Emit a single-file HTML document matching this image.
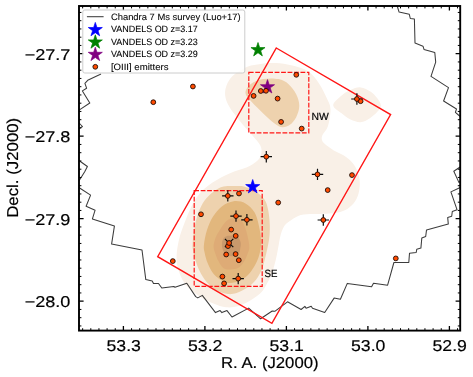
<!DOCTYPE html>
<html><head><meta charset="utf-8"><title>chart</title>
<style>html,body{margin:0;padding:0;background:#fff;}body{width:473px;height:377px;overflow:hidden;font-family:"Liberation Sans",sans-serif;}</style></head>
<body>
<svg width="473" height="377" viewBox="0 0 473 377" style="display:block" font-family="Liberation Sans, sans-serif">
<style>text{stroke:#000;stroke-width:0.18px;paint-order:stroke fill;text-rendering:geometricPrecision}svg{will-change:transform;transform:translateZ(0)}</style>
<rect width="473" height="377" fill="#fff"/>
<defs><clipPath id="ax"><rect x="79.0" y="6.0" width="381.2" height="324.6"/></clipPath></defs>
<g clip-path="url(#ax)">
<path d="M225.2,90.5 C225.6,87.1 227.1,83.4 229.0,80.4 C230.9,77.5 233.4,75.1 236.6,72.8 C239.8,70.5 244.0,67.9 248.0,66.4 C252.0,64.9 256.1,64.5 260.7,63.9 C265.3,63.3 270.8,62.9 275.9,63.1 C281.0,63.3 286.5,64.2 291.1,65.2 C295.8,66.2 300.2,67.3 303.8,69.0 C307.4,70.7 309.9,72.5 312.7,75.3 C315.4,78.0 318.0,81.7 320.3,85.5 C322.6,89.3 325.0,94.2 326.7,98.1 C328.4,102.0 330.3,104.3 330.5,109.0 C330.7,113.7 329.3,121.7 328.0,126.0 C326.7,130.3 323.5,132.7 322.5,135.0 C321.5,137.3 321.6,138.5 322.0,140.0 C322.4,141.5 322.9,142.3 324.9,144.0 C326.9,145.7 330.6,148.5 333.8,150.4 C337.0,152.3 340.9,153.6 343.9,155.5 C346.8,157.4 349.4,159.5 351.5,161.8 C353.6,164.1 355.2,166.4 356.6,169.4 C358.0,172.4 359.2,176.0 359.6,179.6 C360.0,183.2 359.8,187.4 359.1,191.0 C358.4,194.6 357.2,198.1 355.3,201.1 C353.4,204.1 350.6,206.9 347.7,208.8 C344.8,210.7 341.2,211.8 337.6,212.6 C334.0,213.4 330.1,213.6 326.1,213.8 C322.1,214.0 317.7,213.8 313.5,214.0 C309.3,214.2 304.5,214.0 300.8,215.0 C297.1,216.0 294.1,218.2 291.4,219.9 C288.7,221.6 286.6,222.8 284.8,225.2 C283.0,227.6 281.9,230.8 280.8,234.5 C279.7,238.2 279.1,243.3 278.2,247.7 C277.3,252.1 276.6,256.6 275.5,261.0 C274.4,265.4 273.1,270.3 271.5,274.3 C269.9,278.3 268.0,281.8 266.2,284.9 C264.4,288.0 263.3,290.3 260.9,292.8 C258.4,295.3 255.2,297.5 251.5,299.7 C247.8,301.9 243.0,304.7 238.8,306.0 C234.6,307.3 230.3,307.7 226.1,307.3 C221.9,306.9 217.7,305.2 213.5,303.5 C209.3,301.8 204.6,299.5 200.8,297.2 C197.0,294.9 193.6,292.4 190.6,289.6 C187.6,286.9 185.1,284.3 183.0,280.7 C180.9,277.1 179.0,272.2 177.9,268.0 C176.8,263.8 176.4,260.2 176.6,255.3 C176.8,250.4 177.9,244.0 179.2,238.7 C180.5,233.4 182.4,228.6 184.3,223.5 C186.2,218.4 188.3,212.9 190.6,208.2 C192.9,203.5 195.4,199.1 198.2,195.5 C200.9,191.9 203.7,189.3 207.1,186.6 C210.5,183.8 214.5,181.3 218.5,179.0 C222.5,176.7 226.5,174.6 231.2,172.7 C235.8,170.8 242.0,169.6 246.4,167.6 C250.8,165.6 255.1,162.9 257.6,160.5 C260.1,158.1 261.0,155.4 261.4,152.9 C261.8,150.4 261.6,148.1 260.2,145.3 C258.8,142.5 256.0,139.6 253.1,136.2 C250.2,132.8 246.3,128.8 242.9,124.8 C239.5,120.8 235.6,116.1 232.8,112.1 C230.1,108.1 227.7,104.3 226.4,100.7 C225.1,97.1 224.8,93.9 225.2,90.5 Z" fill="#f9f0e7"/>
<path d="M333.2,105.2 C333.2,102.2 338.7,98.0 341.6,95.5 C344.5,93.0 347.3,91.2 350.5,89.9 C353.7,88.6 357.2,87.1 360.6,87.4 C364.0,87.7 368.1,89.9 370.8,91.7 C373.6,93.5 375.4,95.8 377.1,98.1 C378.8,100.4 380.9,103.4 380.9,105.7 C380.9,108.0 379.0,109.9 377.1,112.0 C375.2,114.1 372.2,116.7 369.5,118.4 C366.8,120.1 363.8,122.0 360.6,122.2 C357.4,122.4 353.7,121.1 350.5,119.6 C347.3,118.1 344.5,115.7 341.6,113.3 C338.7,110.9 333.2,108.2 333.2,105.2 Z" fill="#f9f0e7"/>
<path d="M245.5,93.1 C245.3,90.1 247.6,86.5 250.5,84.2 C253.4,81.9 258.5,79.9 263.2,79.1 C267.9,78.2 274.3,78.2 278.5,79.1 C282.7,79.9 285.7,81.7 288.6,84.2 C291.6,86.7 294.4,90.7 296.2,94.3 C298.0,97.9 299.3,102.0 299.3,105.8 C299.3,109.6 297.8,114.0 296.2,117.2 C294.6,120.4 292.2,123.1 289.9,124.8 C287.6,126.5 284.9,127.5 282.3,127.3 C279.8,127.1 277.8,125.8 274.6,123.5 C271.4,121.2 267.0,117.0 263.2,113.4 C259.4,109.8 254.8,105.4 251.8,102.0 C248.9,98.6 245.7,96.1 245.5,93.1 Z" fill="#eed2ae"/>
<path d="M237.1,186.0 C240.5,186.0 241.4,185.9 244.0,186.6 C246.6,187.3 250.0,188.7 252.6,190.0 C255.2,191.3 257.4,192.4 259.5,194.3 C261.6,196.2 264.1,198.6 265.5,201.2 C266.9,203.8 267.4,206.6 268.1,209.8 C268.8,213.0 269.2,216.8 269.5,220.2 C269.8,223.6 269.9,226.7 269.8,230.0 C269.7,233.3 269.5,236.7 269.0,240.0 C268.5,243.3 267.7,246.8 267.0,250.0 C266.3,253.2 265.8,255.7 264.9,258.9 C264.0,262.1 263.4,265.8 261.9,269.3 C260.4,272.8 258.5,276.6 256.0,279.7 C253.5,282.8 250.2,285.6 247.0,287.8 C243.8,290.0 239.8,292.0 236.6,293.0 C233.4,294.0 230.9,294.4 227.7,294.0 C224.5,293.6 220.5,292.4 217.3,290.8 C214.1,289.2 211.1,287.0 208.4,284.1 C205.7,281.2 203.1,277.4 201.0,273.7 C198.9,270.0 197.3,265.9 196.0,262.0 C194.7,258.1 193.6,253.0 193.0,250.0 C192.4,247.0 192.4,247.4 192.6,243.8 C192.8,240.2 193.5,233.6 194.4,228.5 C195.3,223.4 196.5,218.0 198.2,213.3 C199.9,208.7 202.0,204.2 204.6,200.6 C207.2,197.0 210.3,194.0 213.5,191.7 C216.7,189.4 219.7,187.5 223.6,186.6 C227.5,185.7 233.7,186.0 237.1,186.0 Z" fill="#eed2ae"/>
<path d="M233.7,201.2 C237.6,200.7 242.0,201.6 245.5,203.4 C249.0,205.2 252.3,208.6 254.5,212.3 C256.7,216.0 257.8,221.0 258.9,225.7 C260.0,230.4 260.9,236.6 261.1,240.6 C261.4,244.6 261.0,246.6 260.4,249.9 C259.8,253.2 258.9,256.8 257.4,260.3 C255.9,263.8 253.7,267.7 251.5,270.7 C249.3,273.7 246.8,276.3 244.1,278.2 C241.4,280.1 237.8,281.5 235.1,282.3 C232.4,283.1 230.2,283.3 227.7,282.9 C225.2,282.5 222.8,281.3 220.3,279.7 C217.8,278.1 215.0,275.7 212.9,273.0 C210.8,270.3 209.1,266.7 207.7,263.3 C206.3,259.9 205.3,256.0 204.7,252.9 C204.1,249.8 203.5,248.8 203.9,245.0 C204.3,241.2 205.4,234.9 206.9,230.2 C208.4,225.5 210.4,220.8 212.9,216.8 C215.4,212.8 218.3,209.0 221.8,206.4 C225.3,203.8 229.8,201.7 233.7,201.2 Z" fill="#e2b77d"/>
<path d="M233.7,218.3 C236.2,218.2 239.1,218.8 241.1,220.5 C243.1,222.2 244.3,225.3 245.5,228.7 C246.7,232.0 247.9,237.4 248.5,240.6 C249.1,243.8 249.4,245.9 249.3,248.0 C249.2,250.1 248.6,250.9 247.8,253.0 C247.1,255.1 246.2,258.0 244.8,260.3 C243.4,262.6 241.7,265.5 239.6,267.0 C237.5,268.5 234.8,269.1 232.2,269.3 C229.6,269.6 226.2,269.8 224.0,268.5 C221.8,267.2 220.3,264.4 218.8,261.8 C217.3,259.2 216.0,255.5 215.1,252.9 C214.2,250.3 213.5,248.5 213.6,246.0 C213.7,243.5 214.6,240.4 215.5,238.0 C216.4,235.6 217.0,234.5 218.8,231.7 C220.6,228.9 223.7,223.5 226.2,221.3 C228.7,219.1 231.2,218.4 233.7,218.3 Z" fill="#deab76"/>
<path d="M225.3,236.7 C226.6,236.1 229.0,235.7 231.0,235.6 C233.0,235.5 235.6,235.1 237.2,236.2 C238.8,237.3 240.1,240.2 240.6,242.2 C241.1,244.2 240.6,246.2 240.3,248.0 C240.0,249.8 240.1,251.8 238.9,253.2 C237.7,254.6 234.8,255.8 233.0,256.2 C231.2,256.6 229.4,255.8 228.0,255.3 C226.6,254.8 225.4,254.4 224.5,253.2 C223.6,252.0 222.7,249.7 222.3,248.0 C221.9,246.3 221.9,244.4 222.0,243.0 C222.1,241.6 222.4,240.4 223.0,239.3 C223.6,238.2 224.0,237.3 225.3,236.7 Z" fill="#c8996c"/>
<polyline points="101.0,74.0 99.4,74.8 87.7,80.3 84.9,83.3 86.6,88.2 82.4,90.9 89.8,103.0 80.2,109.4 76.0,112.0" fill="none" stroke="#3c3c3c" stroke-width="1.05" stroke-linejoin="round"/>
<polyline points="76.0,121.0 80.0,124.0 82.5,126.5 80.0,128.0 76.0,130.0" fill="none" stroke="#3c3c3c" stroke-width="1.05" stroke-linejoin="round"/>
<polyline points="76.0,158.0 80.0,161.2 87.4,166.5 84.7,171.8 80.0,179.2 76.0,184.0" fill="none" stroke="#3c3c3c" stroke-width="1.05" stroke-linejoin="round"/>
<polyline points="76.0,185.5 80.0,188.2 90.6,195.1 86.1,206.2 95.1,210.2 92.4,218.9 114.4,226.1 111.6,244.1 142.0,250.0 145.8,279.6 152.2,280.9 153.5,283.5 158.5,283.5 161.8,288.0 173.8,286.5 175.0,287.3 186.8,283.3 195.7,296.6 197.8,297.9 202.3,295.4 215.5,312.6 220.1,310.6 221.9,312.6 227.0,310.6 232.0,317.0 248.7,308.1 260.6,318.8 272.2,311.0 274.8,311.3 287.5,301.8 301.1,309.5 304.9,306.4 306.1,308.2 311.2,306.2 312.5,308.2 324.7,312.5 334.1,298.1 340.4,299.3 347.3,283.4 371.6,286.7 373.5,283.3 387.6,285.2 393.9,262.5 408.8,262.5 409.5,253.2 416.2,252.5 416.8,249.2 420.9,248.1 421.8,238.1 425.7,236.5 426.5,230.1 448.3,224.1 447.7,217.6 451.7,216.3 452.3,211.5 457.0,209.7 450.9,191.9 459.7,187.7 464.0,186.0" fill="none" stroke="#3c3c3c" stroke-width="1.05" stroke-linejoin="round"/>
<polyline points="464.0,179.0 458.9,182.4 453.8,171.2 459.7,167.2 464.0,165.0" fill="none" stroke="#3c3c3c" stroke-width="1.05" stroke-linejoin="round"/>
<polyline points="464.0,119.0 459.0,115.5 455.4,112.3 456.5,109.0 443.6,101.0 448.5,87.6 431.0,76.4 435.7,62.1 434.8,52.5 424.0,49.4 423.0,46.2 415.0,43.0 414.4,19.1 410.3,18.5 409.3,14.3 399.1,12.1 397.5,7.0 397.0,3.0" fill="none" stroke="#3c3c3c" stroke-width="1.05" stroke-linejoin="round"/>
<polygon points="276.3,48 390.6,114.6 271.9,323.4 157.7,256.7" fill="none" stroke="#ff1616" stroke-width="1.4"/>
<rect x="248.8" y="72.3" width="60" height="60.6" fill="none" stroke="#ff1616" stroke-width="1.2" stroke-dasharray="4.8,1.66"/>
<rect x="194.2" y="190.6" width="68" height="95.7" fill="none" stroke="#ff1616" stroke-width="1.2" stroke-dasharray="4.8,1.66"/>
<polygon points="252.70,179.50 254.36,184.61 259.74,184.61 255.39,187.77 257.05,192.89 252.70,189.73 248.35,192.89 250.01,187.77 245.66,184.61 251.04,184.61" fill="#0000ff" stroke="#0000ff" stroke-width="0.7" stroke-linejoin="miter" stroke-miterlimit="10"/>
<polygon points="258.00,42.50 259.66,47.61 265.04,47.61 260.69,50.77 262.35,55.89 258.00,52.73 253.65,55.89 255.31,50.77 250.96,47.61 256.34,47.61" fill="#008000" stroke="#008000" stroke-width="0.7" stroke-linejoin="miter" stroke-miterlimit="10"/>
<polygon points="267.50,79.60 269.16,84.71 274.54,84.71 270.19,87.87 271.85,92.99 267.50,89.83 263.15,92.99 264.81,87.87 260.46,84.71 265.84,84.71" fill="#800080" stroke="#800080" stroke-width="0.7" stroke-linejoin="miter" stroke-miterlimit="10"/>
<path d="M351.2,99.0 h11.4 M356.9,93.3 v11.4" stroke="#0a0a0a" stroke-width="1.2" fill="none"/>
<path d="M260.6,156.7 h11.4 M266.3,151.0 v11.4" stroke="#0a0a0a" stroke-width="1.2" fill="none"/>
<path d="M311.8,174.4 h11.4 M317.5,168.7 v11.4" stroke="#0a0a0a" stroke-width="1.2" fill="none"/>
<path d="M317.6,220.0 h11.4 M323.3,214.3 v11.4" stroke="#0a0a0a" stroke-width="1.2" fill="none"/>
<path d="M222.1,195.9 h11.4 M227.8,190.2 v11.4" stroke="#0a0a0a" stroke-width="1.2" fill="none"/>
<path d="M230.3,216.1 h11.4 M236.0,210.4 v11.4" stroke="#0a0a0a" stroke-width="1.2" fill="none"/>
<path d="M241.2,219.8 h11.4 M246.9,214.1 v11.4" stroke="#0a0a0a" stroke-width="1.2" fill="none"/>
<path d="M232.5,278.6 h11.4 M238.2,272.9 v11.4" stroke="#0a0a0a" stroke-width="1.2" fill="none"/>
<path d="M224.9,238.8 l8.4,8.4 M233.3,238.8 l-8.4,8.4" stroke="#0a0a0a" stroke-width="1.2" fill="none"/>
<circle cx="153.3" cy="102.2" r="2.4" fill="#ff4a00" stroke="#1e0a03" stroke-width="0.9"/>
<circle cx="192.9" cy="86.5" r="2.4" fill="#ff4a00" stroke="#1e0a03" stroke-width="0.9"/>
<circle cx="296.3" cy="74.8" r="2.4" fill="#ff4a00" stroke="#1e0a03" stroke-width="0.9"/>
<circle cx="260.8" cy="91.0" r="2.4" fill="#ff4a00" stroke="#1e0a03" stroke-width="0.9"/>
<circle cx="266.0" cy="90.8" r="2.4" fill="#ff4a00" stroke="#1e0a03" stroke-width="0.9"/>
<circle cx="253.6" cy="95.9" r="2.4" fill="#ff4a00" stroke="#1e0a03" stroke-width="0.9"/>
<circle cx="277.6" cy="98.6" r="2.4" fill="#ff4a00" stroke="#1e0a03" stroke-width="0.9"/>
<circle cx="281.1" cy="121.9" r="2.4" fill="#ff4a00" stroke="#1e0a03" stroke-width="0.9"/>
<circle cx="301.7" cy="128.6" r="2.4" fill="#ff4a00" stroke="#1e0a03" stroke-width="0.9"/>
<circle cx="360.6" cy="101.2" r="2.4" fill="#ff4a00" stroke="#1e0a03" stroke-width="0.9"/>
<circle cx="352.0" cy="175.1" r="2.4" fill="#ff4a00" stroke="#1e0a03" stroke-width="0.9"/>
<circle cx="327.7" cy="190.1" r="2.4" fill="#ff4a00" stroke="#1e0a03" stroke-width="0.9"/>
<circle cx="278.2" cy="202.6" r="2.4" fill="#ff4a00" stroke="#1e0a03" stroke-width="0.9"/>
<circle cx="239.0" cy="193.5" r="2.4" fill="#ff4a00" stroke="#1e0a03" stroke-width="0.9"/>
<circle cx="201.0" cy="214.3" r="2.4" fill="#ff4a00" stroke="#1e0a03" stroke-width="0.9"/>
<circle cx="231.2" cy="229.6" r="2.4" fill="#ff4a00" stroke="#1e0a03" stroke-width="0.9"/>
<circle cx="235.7" cy="235.9" r="2.4" fill="#ff4a00" stroke="#1e0a03" stroke-width="0.9"/>
<circle cx="228.0" cy="246.1" r="2.4" fill="#ff4a00" stroke="#1e0a03" stroke-width="0.9"/>
<circle cx="226.2" cy="254.5" r="2.4" fill="#ff4a00" stroke="#1e0a03" stroke-width="0.9"/>
<circle cx="235.6" cy="254.1" r="2.4" fill="#ff4a00" stroke="#1e0a03" stroke-width="0.9"/>
<circle cx="238.8" cy="260.2" r="2.4" fill="#ff4a00" stroke="#1e0a03" stroke-width="0.9"/>
<circle cx="222.4" cy="276.6" r="2.4" fill="#ff4a00" stroke="#1e0a03" stroke-width="0.9"/>
<circle cx="224.1" cy="283.4" r="2.4" fill="#ff4a00" stroke="#1e0a03" stroke-width="0.9"/>
<circle cx="172.8" cy="261.1" r="2.4" fill="#ff4a00" stroke="#1e0a03" stroke-width="0.9"/>
<circle cx="395.8" cy="258.4" r="2.4" fill="#ff4a00" stroke="#1e0a03" stroke-width="0.9"/>
<circle cx="356.9" cy="99.0" r="2.4" fill="#ff4a00" stroke="#1e0a03" stroke-width="0.9"/>
<circle cx="266.3" cy="156.7" r="2.4" fill="#ff4a00" stroke="#1e0a03" stroke-width="0.9"/>
<circle cx="317.5" cy="174.4" r="2.4" fill="#ff4a00" stroke="#1e0a03" stroke-width="0.9"/>
<circle cx="323.3" cy="220.0" r="2.4" fill="#ff4a00" stroke="#1e0a03" stroke-width="0.9"/>
<circle cx="227.8" cy="195.9" r="2.4" fill="#ff4a00" stroke="#1e0a03" stroke-width="0.9"/>
<circle cx="236.0" cy="216.1" r="2.4" fill="#ff4a00" stroke="#1e0a03" stroke-width="0.9"/>
<circle cx="246.9" cy="219.8" r="2.4" fill="#ff4a00" stroke="#1e0a03" stroke-width="0.9"/>
<circle cx="238.2" cy="278.6" r="2.4" fill="#ff4a00" stroke="#1e0a03" stroke-width="0.9"/>
<circle cx="229.1" cy="243.0" r="2.4" fill="#ff4a00" stroke="#1e0a03" stroke-width="0.9"/>
</g>
<text x="311.5" y="119.7" font-size="10.5" textLength="17.3" lengthAdjust="spacingAndGlyphs" fill="#000">NW</text>
<text x="264.6" y="277" font-size="10.5" textLength="12.9" lengthAdjust="spacingAndGlyphs" fill="#000">SE</text>
<path d="M82.65,330.6 v-2.4 M82.65,6.0 v2.4" stroke="#000" stroke-width="1.0"/>
<path d="M90.80,330.6 v-2.4 M90.80,6.0 v2.4" stroke="#000" stroke-width="1.0"/>
<path d="M98.95,330.6 v-2.4 M98.95,6.0 v2.4" stroke="#000" stroke-width="1.0"/>
<path d="M107.10,330.6 v-2.4 M107.10,6.0 v2.4" stroke="#000" stroke-width="1.0"/>
<path d="M115.25,330.6 v-2.4 M115.25,6.0 v2.4" stroke="#000" stroke-width="1.0"/>
<path d="M123.40,330.6 v-4.6 M123.40,6.0 v4.6" stroke="#000" stroke-width="1.3"/>
<path d="M131.55,330.6 v-2.4 M131.55,6.0 v2.4" stroke="#000" stroke-width="1.0"/>
<path d="M139.70,330.6 v-2.4 M139.70,6.0 v2.4" stroke="#000" stroke-width="1.0"/>
<path d="M147.85,330.6 v-2.4 M147.85,6.0 v2.4" stroke="#000" stroke-width="1.0"/>
<path d="M156.00,330.6 v-2.4 M156.00,6.0 v2.4" stroke="#000" stroke-width="1.0"/>
<path d="M164.15,330.6 v-2.4 M164.15,6.0 v2.4" stroke="#000" stroke-width="1.0"/>
<path d="M172.30,330.6 v-2.4 M172.30,6.0 v2.4" stroke="#000" stroke-width="1.0"/>
<path d="M180.45,330.6 v-2.4 M180.45,6.0 v2.4" stroke="#000" stroke-width="1.0"/>
<path d="M188.60,330.6 v-2.4 M188.60,6.0 v2.4" stroke="#000" stroke-width="1.0"/>
<path d="M196.75,330.6 v-2.4 M196.75,6.0 v2.4" stroke="#000" stroke-width="1.0"/>
<path d="M204.90,330.6 v-4.6 M204.90,6.0 v4.6" stroke="#000" stroke-width="1.3"/>
<path d="M213.05,330.6 v-2.4 M213.05,6.0 v2.4" stroke="#000" stroke-width="1.0"/>
<path d="M221.20,330.6 v-2.4 M221.20,6.0 v2.4" stroke="#000" stroke-width="1.0"/>
<path d="M229.35,330.6 v-2.4 M229.35,6.0 v2.4" stroke="#000" stroke-width="1.0"/>
<path d="M237.50,330.6 v-2.4 M237.50,6.0 v2.4" stroke="#000" stroke-width="1.0"/>
<path d="M245.65,330.6 v-2.4 M245.65,6.0 v2.4" stroke="#000" stroke-width="1.0"/>
<path d="M253.80,330.6 v-2.4 M253.80,6.0 v2.4" stroke="#000" stroke-width="1.0"/>
<path d="M261.95,330.6 v-2.4 M261.95,6.0 v2.4" stroke="#000" stroke-width="1.0"/>
<path d="M270.10,330.6 v-2.4 M270.10,6.0 v2.4" stroke="#000" stroke-width="1.0"/>
<path d="M278.25,330.6 v-2.4 M278.25,6.0 v2.4" stroke="#000" stroke-width="1.0"/>
<path d="M286.40,330.6 v-4.6 M286.40,6.0 v4.6" stroke="#000" stroke-width="1.3"/>
<path d="M294.55,330.6 v-2.4 M294.55,6.0 v2.4" stroke="#000" stroke-width="1.0"/>
<path d="M302.70,330.6 v-2.4 M302.70,6.0 v2.4" stroke="#000" stroke-width="1.0"/>
<path d="M310.85,330.6 v-2.4 M310.85,6.0 v2.4" stroke="#000" stroke-width="1.0"/>
<path d="M319.00,330.6 v-2.4 M319.00,6.0 v2.4" stroke="#000" stroke-width="1.0"/>
<path d="M327.15,330.6 v-2.4 M327.15,6.0 v2.4" stroke="#000" stroke-width="1.0"/>
<path d="M335.30,330.6 v-2.4 M335.30,6.0 v2.4" stroke="#000" stroke-width="1.0"/>
<path d="M343.45,330.6 v-2.4 M343.45,6.0 v2.4" stroke="#000" stroke-width="1.0"/>
<path d="M351.60,330.6 v-2.4 M351.60,6.0 v2.4" stroke="#000" stroke-width="1.0"/>
<path d="M359.75,330.6 v-2.4 M359.75,6.0 v2.4" stroke="#000" stroke-width="1.0"/>
<path d="M367.90,330.6 v-4.6 M367.90,6.0 v4.6" stroke="#000" stroke-width="1.3"/>
<path d="M376.05,330.6 v-2.4 M376.05,6.0 v2.4" stroke="#000" stroke-width="1.0"/>
<path d="M384.20,330.6 v-2.4 M384.20,6.0 v2.4" stroke="#000" stroke-width="1.0"/>
<path d="M392.35,330.6 v-2.4 M392.35,6.0 v2.4" stroke="#000" stroke-width="1.0"/>
<path d="M400.50,330.6 v-2.4 M400.50,6.0 v2.4" stroke="#000" stroke-width="1.0"/>
<path d="M408.65,330.6 v-2.4 M408.65,6.0 v2.4" stroke="#000" stroke-width="1.0"/>
<path d="M416.80,330.6 v-2.4 M416.80,6.0 v2.4" stroke="#000" stroke-width="1.0"/>
<path d="M424.95,330.6 v-2.4 M424.95,6.0 v2.4" stroke="#000" stroke-width="1.0"/>
<path d="M433.10,330.6 v-2.4 M433.10,6.0 v2.4" stroke="#000" stroke-width="1.0"/>
<path d="M441.25,330.6 v-2.4 M441.25,6.0 v2.4" stroke="#000" stroke-width="1.0"/>
<path d="M449.40,330.6 v-4.6 M449.40,6.0 v4.6" stroke="#000" stroke-width="1.3"/>
<path d="M457.55,330.6 v-2.4 M457.55,6.0 v2.4" stroke="#000" stroke-width="1.0"/>
<path d="M79.0,12.45 h2.4 M460.2,12.45 h-2.4" stroke="#000" stroke-width="1.0"/>
<path d="M79.0,20.70 h2.4 M460.2,20.70 h-2.4" stroke="#000" stroke-width="1.0"/>
<path d="M79.0,28.95 h2.4 M460.2,28.95 h-2.4" stroke="#000" stroke-width="1.0"/>
<path d="M79.0,37.20 h2.4 M460.2,37.20 h-2.4" stroke="#000" stroke-width="1.0"/>
<path d="M79.0,45.45 h2.4 M460.2,45.45 h-2.4" stroke="#000" stroke-width="1.0"/>
<path d="M79.0,53.70 h4.6 M460.2,53.70 h-4.6" stroke="#000" stroke-width="1.3"/>
<path d="M79.0,61.95 h2.4 M460.2,61.95 h-2.4" stroke="#000" stroke-width="1.0"/>
<path d="M79.0,70.20 h2.4 M460.2,70.20 h-2.4" stroke="#000" stroke-width="1.0"/>
<path d="M79.0,78.45 h2.4 M460.2,78.45 h-2.4" stroke="#000" stroke-width="1.0"/>
<path d="M79.0,86.70 h2.4 M460.2,86.70 h-2.4" stroke="#000" stroke-width="1.0"/>
<path d="M79.0,94.95 h2.4 M460.2,94.95 h-2.4" stroke="#000" stroke-width="1.0"/>
<path d="M79.0,103.20 h2.4 M460.2,103.20 h-2.4" stroke="#000" stroke-width="1.0"/>
<path d="M79.0,111.45 h2.4 M460.2,111.45 h-2.4" stroke="#000" stroke-width="1.0"/>
<path d="M79.0,119.70 h2.4 M460.2,119.70 h-2.4" stroke="#000" stroke-width="1.0"/>
<path d="M79.0,127.95 h2.4 M460.2,127.95 h-2.4" stroke="#000" stroke-width="1.0"/>
<path d="M79.0,136.20 h4.6 M460.2,136.20 h-4.6" stroke="#000" stroke-width="1.3"/>
<path d="M79.0,144.45 h2.4 M460.2,144.45 h-2.4" stroke="#000" stroke-width="1.0"/>
<path d="M79.0,152.70 h2.4 M460.2,152.70 h-2.4" stroke="#000" stroke-width="1.0"/>
<path d="M79.0,160.95 h2.4 M460.2,160.95 h-2.4" stroke="#000" stroke-width="1.0"/>
<path d="M79.0,169.20 h2.4 M460.2,169.20 h-2.4" stroke="#000" stroke-width="1.0"/>
<path d="M79.0,177.45 h2.4 M460.2,177.45 h-2.4" stroke="#000" stroke-width="1.0"/>
<path d="M79.0,185.70 h2.4 M460.2,185.70 h-2.4" stroke="#000" stroke-width="1.0"/>
<path d="M79.0,193.95 h2.4 M460.2,193.95 h-2.4" stroke="#000" stroke-width="1.0"/>
<path d="M79.0,202.20 h2.4 M460.2,202.20 h-2.4" stroke="#000" stroke-width="1.0"/>
<path d="M79.0,210.45 h2.4 M460.2,210.45 h-2.4" stroke="#000" stroke-width="1.0"/>
<path d="M79.0,218.70 h4.6 M460.2,218.70 h-4.6" stroke="#000" stroke-width="1.3"/>
<path d="M79.0,226.95 h2.4 M460.2,226.95 h-2.4" stroke="#000" stroke-width="1.0"/>
<path d="M79.0,235.20 h2.4 M460.2,235.20 h-2.4" stroke="#000" stroke-width="1.0"/>
<path d="M79.0,243.45 h2.4 M460.2,243.45 h-2.4" stroke="#000" stroke-width="1.0"/>
<path d="M79.0,251.70 h2.4 M460.2,251.70 h-2.4" stroke="#000" stroke-width="1.0"/>
<path d="M79.0,259.95 h2.4 M460.2,259.95 h-2.4" stroke="#000" stroke-width="1.0"/>
<path d="M79.0,268.20 h2.4 M460.2,268.20 h-2.4" stroke="#000" stroke-width="1.0"/>
<path d="M79.0,276.45 h2.4 M460.2,276.45 h-2.4" stroke="#000" stroke-width="1.0"/>
<path d="M79.0,284.70 h2.4 M460.2,284.70 h-2.4" stroke="#000" stroke-width="1.0"/>
<path d="M79.0,292.95 h2.4 M460.2,292.95 h-2.4" stroke="#000" stroke-width="1.0"/>
<path d="M79.0,301.20 h4.6 M460.2,301.20 h-4.6" stroke="#000" stroke-width="1.3"/>
<path d="M79.0,309.45 h2.4 M460.2,309.45 h-2.4" stroke="#000" stroke-width="1.0"/>
<path d="M79.0,317.70 h2.4 M460.2,317.70 h-2.4" stroke="#000" stroke-width="1.0"/>
<path d="M79.0,325.95 h2.4 M460.2,325.95 h-2.4" stroke="#000" stroke-width="1.0"/>
<rect x="82.8" y="10" width="162" height="63" rx="2" ry="2" fill="#fff" fill-opacity="0.8" stroke="#cccccc" stroke-width="1"/>
<line x1="86.9" y1="16.7" x2="103.6" y2="16.7" stroke="#3c3c3c" stroke-width="1.05"/>
<polygon points="95.30,22.40 96.96,27.51 102.34,27.51 97.99,30.67 99.65,35.79 95.30,32.63 90.95,35.79 92.61,30.67 88.26,27.51 93.64,27.51" fill="#0000ff" stroke="#0000ff" stroke-width="0.7" stroke-linejoin="miter" stroke-miterlimit="10"/>
<polygon points="95.30,34.80 96.96,39.91 102.34,39.91 97.99,43.07 99.65,48.19 95.30,45.03 90.95,48.19 92.61,43.07 88.26,39.91 93.64,39.91" fill="#008000" stroke="#008000" stroke-width="0.7" stroke-linejoin="miter" stroke-miterlimit="10"/>
<polygon points="95.30,47.20 96.96,52.31 102.34,52.31 97.99,55.47 99.65,60.59 95.30,57.43 90.95,60.59 92.61,55.47 88.26,52.31 93.64,52.31" fill="#800080" stroke="#800080" stroke-width="0.7" stroke-linejoin="miter" stroke-miterlimit="10"/>
<circle cx="95.3" cy="66.8" r="2.4" fill="#ff4a00" stroke="#1e0a03" stroke-width="0.9"/>
<text style="stroke-width:0.08px" x="110.9" y="19.9" font-size="9.2" textLength="129.8" lengthAdjust="spacingAndGlyphs" fill="#000">Chandra 7 Ms survey (Luo+17)</text>
<text style="stroke-width:0.08px" x="110.9" y="32.4" font-size="9.2" textLength="86.9" lengthAdjust="spacingAndGlyphs" fill="#000">VANDELS OD z=3.17</text>
<text style="stroke-width:0.08px" x="110.9" y="44.8" font-size="9.2" textLength="86.9" lengthAdjust="spacingAndGlyphs" fill="#000">VANDELS OD z=3.23</text>
<text style="stroke-width:0.08px" x="110.9" y="57.2" font-size="9.2" textLength="86.9" lengthAdjust="spacingAndGlyphs" fill="#000">VANDELS OD z=3.29</text>
<text style="stroke-width:0.08px" x="110.9" y="69.6" font-size="9.2" textLength="57.6" lengthAdjust="spacingAndGlyphs" fill="#000">[OIII] emitters</text>
<rect x="79.0" y="6.0" width="381.2" height="324.6" fill="none" stroke="#000" stroke-width="1.9"/>
<text x="123.7" y="350.8" font-size="15.6" text-anchor="middle" textLength="34.4" lengthAdjust="spacingAndGlyphs">53.3</text>
<text x="205.2" y="350.8" font-size="15.6" text-anchor="middle" textLength="34.4" lengthAdjust="spacingAndGlyphs">53.2</text>
<text x="286.7" y="350.8" font-size="15.6" text-anchor="middle" textLength="34.4" lengthAdjust="spacingAndGlyphs">53.1</text>
<text x="368.2" y="350.8" font-size="15.6" text-anchor="middle" textLength="34.4" lengthAdjust="spacingAndGlyphs">53.0</text>
<text x="449.7" y="350.8" font-size="15.6" text-anchor="middle" textLength="34.4" lengthAdjust="spacingAndGlyphs">52.9</text>
<text x="70.4" y="59.8" font-size="15.6" text-anchor="end" textLength="45.7" lengthAdjust="spacingAndGlyphs">−27.7</text>
<text x="70.4" y="142.3" font-size="15.6" text-anchor="end" textLength="45.7" lengthAdjust="spacingAndGlyphs">−27.8</text>
<text x="70.4" y="224.8" font-size="15.6" text-anchor="end" textLength="45.7" lengthAdjust="spacingAndGlyphs">−27.9</text>
<text x="70.4" y="307.3" font-size="15.6" text-anchor="end" textLength="45.7" lengthAdjust="spacingAndGlyphs">−28.0</text>
<text x="221.0" y="368.4" font-size="15.8" textLength="97.6" lengthAdjust="spacingAndGlyphs">R. A. (J2000)</text>
<text transform="translate(17.8,167.8) rotate(-90)" font-size="15.8" text-anchor="middle" textLength="100" lengthAdjust="spacingAndGlyphs">Decl. (J2000)</text>
</svg>
</body></html>
